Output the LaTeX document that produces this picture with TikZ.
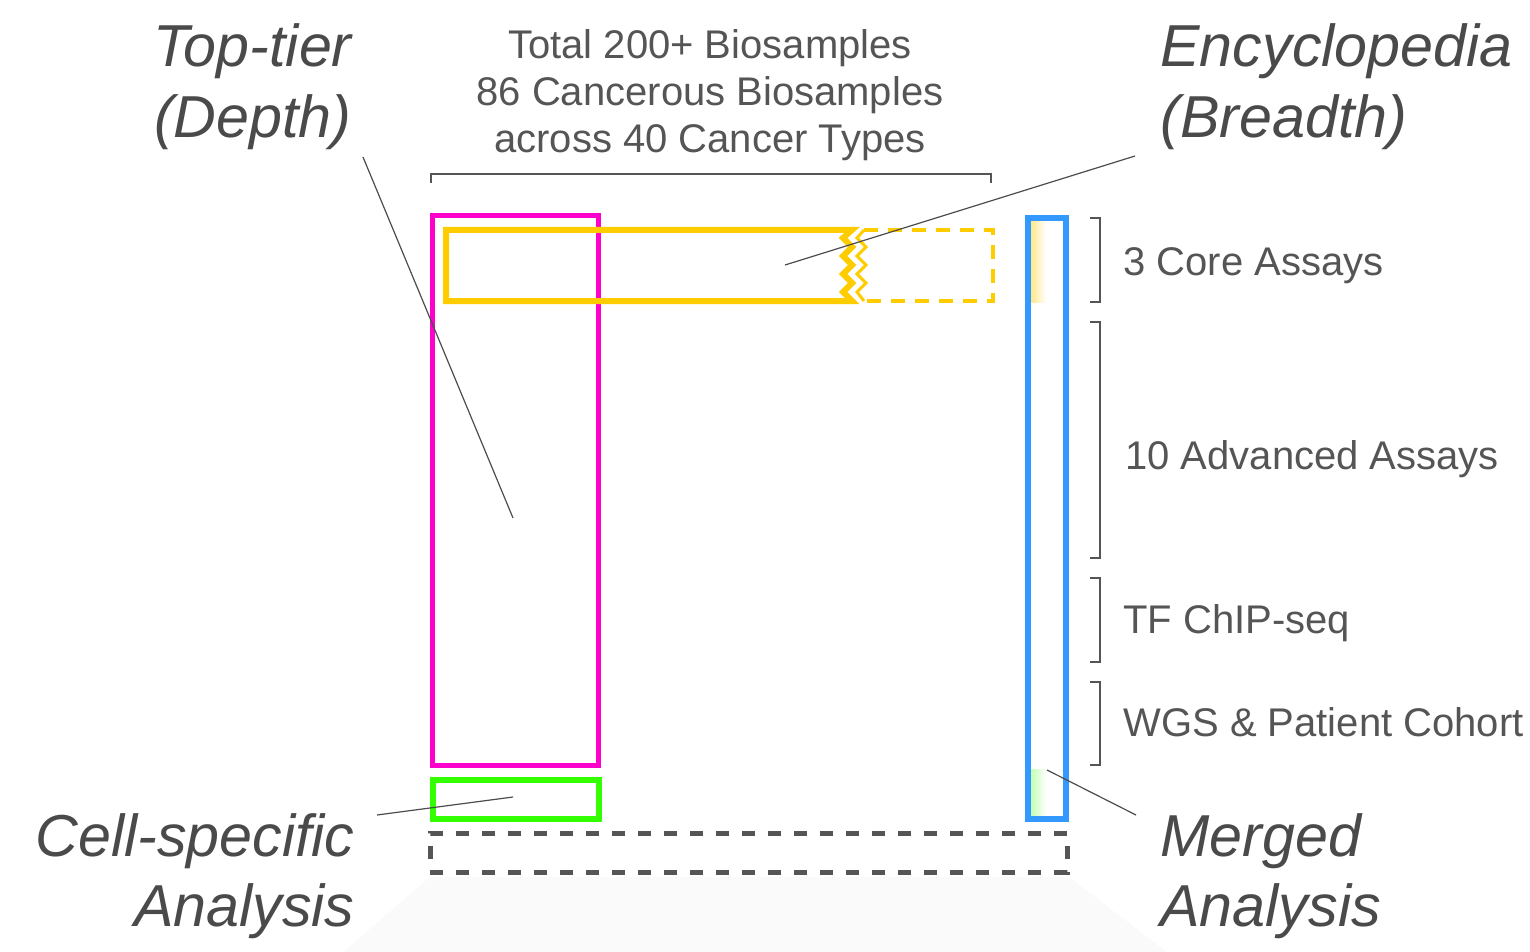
\documentclass[tikz,border=0pt]{standalone}
\usepackage{fontspec}
\setmainfont{Liberation Sans}
\definecolor{txtgray}{HTML}{555555}
\definecolor{biggray}{HTML}{4A4A4A}
\definecolor{magc}{HTML}{FF00CC}
\definecolor{yelc}{HTML}{FFCC00}
\definecolor{grnc}{HTML}{33FF00}
\definecolor{bluc}{HTML}{3399FF}
\definecolor{dgray}{HTML}{555555}
\tikzset{
  boxbase/.style={draw, inner sep=0pt, outer sep=0pt},
  magbox/.style={boxbase, draw=magc, line width=2.6pt},
  grnbox/.style={boxbase, draw=grnc, line width=3pt},
  blubox/.style={boxbase, draw=bluc, line width=3pt},
  dashbox/.style={boxbase, draw=dgray, line width=2.5pt, dash pattern=on 6.5pt off 6.5pt},
  leader/.style={draw=dgray!90!black, line width=0.6pt},
  brack/.style={draw=dgray, line width=0.8pt},
  small/.style={text=txtgray, font=\fontsize{20pt}{24pt}\selectfont, inner sep=0pt},
  big/.style={text=biggray, font=\fontsize{29.6pt}{35pt}\selectfont\itshape, inner sep=0pt},
}
\begin{document}
\begin{tikzpicture}[x=0.5pt,y=-0.5pt]
\useasboundingbox (0,0) rectangle (1530,952);
% faint trapezoid
\fill[black!2] (430,877) -- (1069,877) -- (1167,952) -- (343,952) -- cycle;

% top text
\node[small, anchor=base] (tt1) at (710,59) {Total 200+ Biosamples};
\node[small, anchor=base] (tt2) at (710,106) {86 Cancerous Biosamples};
\node[small, anchor=base] (tt3) at (710,153) {across 40 Cancer Types};
% top bracket
\draw[brack] (431,183) -- (431,174) -- (991,174) -- (991,183);

% big labels
\node[big, anchor=base east] (topa) at (352,67) {Top-tier};
\node[big, anchor=base east] (topb) at (352,138) {(Depth)};
\node[big, anchor=base west] (enca) at (1160,67) {Encyclopedia};
\node[big, anchor=base west] (encb) at (1160,138) {(Breadth)};
\node[big, anchor=base east] (cella) at (355,856) {Cell-specific};
\node[big, anchor=base east] (cellb) at (355,926) {Analysis};
\node[big, anchor=base west] (mera) at (1160,856) {Merged};
\node[big, anchor=base west] (merb) at (1160,926) {Analysis};

% boxes
\node[magbox, minimum width=83pt, minimum height=275pt] (topbox) at (515.5,490.5) {};
\node[grnbox, minimum width=83pt, minimum height=19.5pt] (cellbox) at (515.5,799.5) {};
\node[dashbox, minimum width=318.5pt, minimum height=19.5pt] (futbox) at (748.5,852.5) {};

% gradients inside blue bar
\shade[left color=yelc!45, right color=white] (1031,221) rectangle (1046,302);
\shade[left color=grnc!30, right color=white] (1031,769) rectangle (1046,816);
\node[blubox, minimum width=19pt, minimum height=300.5pt] (mergebox) at (1047,518.5) {};

% yellow encyclopedia box with zigzag cut
\draw[yelc, line width=3pt, line join=miter]
  (852,230) -- (446,230) -- (446,301) -- (852,301)
  -- (843,292) -- (852,283) -- (843,274) -- (852,265) -- (843,256) -- (852,247) -- (843,238) -- cycle;
\draw[yelc, line width=1.5pt]
  (864,230) -- (857,238) -- (866,247) -- (857,256) -- (866,265) -- (857,274) -- (866,283) -- (857,292) -- (864,301);
\draw[yelc, line width=1.6pt, dash pattern=on 7pt off 5pt]
  (864,230) -- (993,230) -- (993,301) -- (864,301);

% right brackets and labels
\draw[brack] (1090,218) -- (1100,218) -- (1100,302) -- (1090,302);
\draw[brack] (1090,322) -- (1100,322) -- (1100,558) -- (1090,558);
\draw[brack] (1090,578) -- (1100,578) -- (1100,662) -- (1090,662);
\draw[brack] (1090,682) -- (1100,682) -- (1100,765) -- (1090,765);
\node[small, anchor=base west] (core) at (1123,275) {3 Core Assays};
\node[small, anchor=base west] (adv) at (1125,469) {10 Advanced Assays};
\node[small, anchor=base west] (tf) at (1123,633) {TF ChIP-seq};
\node[small, anchor=base west] (wgs) at (1123,736) {WGS \& Patient Cohort};

% leader lines
\coordinate (ttstart) at (363,157);
\coordinate (ttend) at (513,518);
\coordinate (encstart) at (1135,156);
\coordinate (encend) at (785,265);
\coordinate (cellstart) at (377,815);
\coordinate (cellend) at (513,797);
\coordinate (merstart) at (1136,815);
\coordinate (merend) at (1047,770);
\draw[leader] (ttstart) -- (ttend);
\draw[leader] (encstart) -- (encend);
\draw[leader] (cellstart) -- (cellend);
\draw[leader] (merstart) -- (merend);
\end{tikzpicture}
\end{document}
